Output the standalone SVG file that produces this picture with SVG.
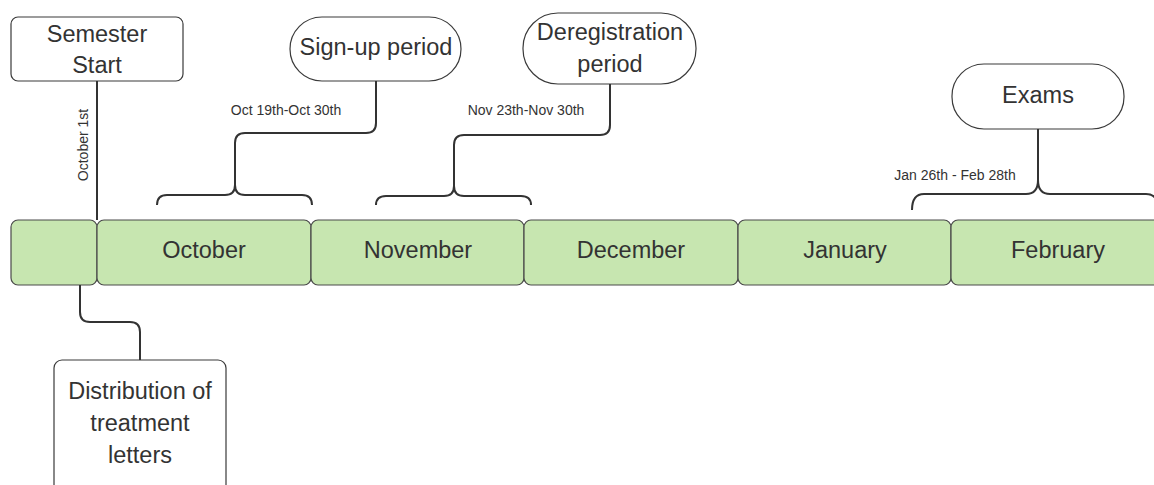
<svg xmlns="http://www.w3.org/2000/svg" width="1154" height="485" viewBox="0 0 1154 485">
<style>
.box{fill:#ffffff;stroke:#3a3a3a;stroke-width:1.2}
.month{fill:#c7e6b0;stroke:#4a4a4a;stroke-width:1.2}
.t{font-family:"Liberation Sans",Arial,sans-serif;font-size:23.5px;fill:#333333;text-anchor:middle}
.s{font-family:"Liberation Sans",Arial,sans-serif;font-size:14px;fill:#333333;text-anchor:middle}
.c{fill:none;stroke:#333333;stroke-width:2}
</style>
<rect width="1154" height="485" fill="#ffffff"/>
<g id="month0"><rect class="month" x="11" y="220" width="86" height="65" rx="7"/></g>
<g id="october"><rect class="month" x="97" y="220" width="214" height="65" rx="7"/><text class="t" x="204" y="258">October</text></g>
<g id="november"><rect class="month" x="311" y="220" width="213" height="65" rx="7"/><text class="t" x="418" y="258">November</text></g>
<g id="december"><rect class="month" x="524" y="220" width="214" height="65" rx="7"/><text class="t" x="631" y="258">December</text></g>
<g id="january"><rect class="month" x="738" y="220" width="213" height="65" rx="7"/><text class="t" x="845" y="258">January</text></g>
<g id="february"><rect class="month" x="951" y="220" width="214" height="65" rx="7"/><text class="t" x="1058" y="258">February</text></g>
<g id="semester-start"><rect class="box" x="11" y="17" width="172" height="64" rx="7"/><text class="t" x="97" y="42">Semester</text><text class="t" x="97" y="73">Start</text></g>
<g id="signup"><rect class="box" x="290" y="17" width="171" height="64" rx="32"/><text class="t" x="376" y="55">Sign-up period</text></g>
<g id="deregistration"><rect class="box" x="523" y="13" width="173" height="71" rx="35"/><text class="t" x="610" y="40">Deregistration</text><text class="t" x="610" y="72">period</text></g>
<g id="exams"><rect class="box" x="952" y="64" width="172" height="65" rx="32"/><text class="t" x="1038" y="103">Exams</text></g>
<g id="distribution"><rect class="box" x="54" y="360" width="172" height="140" rx="8"/><text class="t" x="140" y="399">Distribution of</text><text class="t" x="140" y="431">treatment</text><text class="t" x="140" y="463">letters</text></g>
<g id="connectors">
<path class="c" d="M97 81 V220"/>
<text class="s" transform="translate(88 145) rotate(-90)">October 1st</text>
<path class="c" d="M376 81 V123 Q376 133 366 133 H245 Q235 133 235 143 V185"/>
<path class="c" d="M157 205 Q157 195 167 195 H225 Q235 195 235 185 Q235 195 245 195 H302 Q312 195 312 205"/>
<text class="s" x="286" y="115">Oct 19th-Oct 30th</text>
<path class="c" d="M610 84 V125 Q610 135 600 135 H464 Q454 135 454 145 V186"/>
<path class="c" d="M376 205 Q376 196 386 196 H444 Q454 196 454 186 Q454 196 464 196 H521 Q531 196 531 205"/>
<text class="s" x="526" y="115">Nov 23th-Nov 30th</text>
<path class="c" d="M1038 129 V180"/>
<path class="c" d="M912 210 Q912 194 924 194 H1026 Q1038 194 1038 180 Q1038 194 1050 194 H1146 Q1156 194 1158 204"/>
<text class="s" x="955" y="180">Jan 26th - Feb 28th</text>
<path class="c" d="M80 285 V312 Q80 322 90 322 H130 Q140 322 140 332 V360"/>
</g>
</svg>
